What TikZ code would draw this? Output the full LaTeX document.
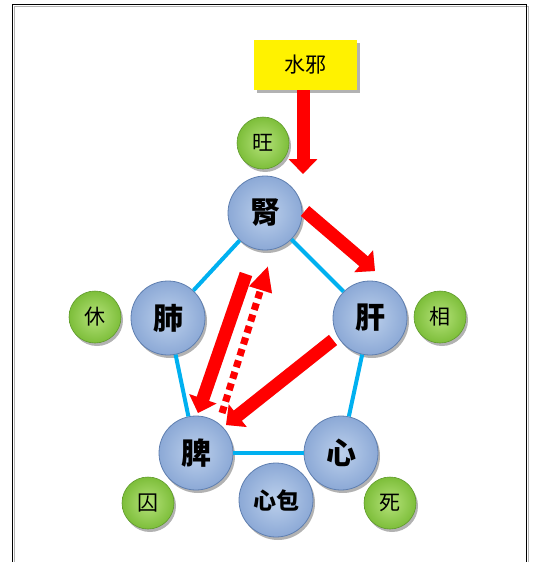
\documentclass[tikz,border=0pt]{standalone}
\usepackage{fontspec}
\newfontfamily\cjk{Noto Sans CJK TC}
\usetikzlibrary{arrows.meta,shadows}
\definecolor{edgeblue}{HTML}{00B0F0}
\definecolor{ballin}{HTML}{BCD0EC}
\definecolor{ballout}{HTML}{8CA9D6}
\definecolor{ballrim}{HTML}{5F7FB0}
\definecolor{grin}{HTML}{B5E27A}
\definecolor{grout}{HTML}{7DBE3A}
\definecolor{grrim}{HTML}{5E9A2A}
\definecolor{arrred}{HTML}{FF0000}
\tikzset{
  bluenode/.style={circle, minimum size=74pt, inner sep=0pt, shading=radial,
    inner color=ballin, outer color=ballout, draw=ballrim, line width=0.8pt,
    drop shadow={shadow xshift=2pt, shadow yshift=-3pt, opacity=0.3, fill=black},
    font=\cjk\bfseries\fontsize{30}{30}\selectfont},
  greennode/.style={circle, minimum size=52pt, inner sep=0pt, shading=radial,
    inner color=grin, outer color=grout, draw=grrim, line width=0.6pt,
    drop shadow={shadow xshift=2pt, shadow yshift=-3pt, opacity=0.3, fill=black},
    font=\cjk\fontsize{21}{21}\selectfont},
  yellowbox/.style={rectangle, fill=yellow, minimum width=103pt, minimum height=50pt,
    drop shadow={shadow xshift=3pt, shadow yshift=-3pt, opacity=0.3, fill=black},
    font=\cjk\fontsize{21}{21}\selectfont},
  edgeline/.style={draw=edgeblue, line width=4pt},
  fatarrow/.style={draw=arrred, line width=13pt, -{Triangle[width=28pt,length=15pt]}},
  fatshadow/.style={draw=black!18, line width=13pt, -{Triangle[width=28pt,length=15pt]}},
  dotarrow/.style={draw=arrred, line width=7pt, dash pattern=on 7pt off 5pt,
    -{Triangle[width=22pt,length=25pt]}},
  dotshadow/.style={draw=black!18, line width=7pt, dash pattern=on 7pt off 5pt,
    -{Triangle[width=22pt,length=25pt]}},
}
\begin{document}
\begin{tikzpicture}[x=1pt,y=-1pt]
\useasboundingbox (0,0) rectangle (533,562);
% frame
\draw[black!30, line width=1.2pt] (14.2,562) -- (14.2,6.2) -- (528.2,6.2) -- (528.2,562);
\draw[black, line width=1.4pt] (12.5,562) -- (12.5,4.5) -- (526.5,4.5) -- (526.5,562);

% nodes
\node[yellowbox] (xie) at (305.5,65) {水邪};
\node[greennode] (wang) at (263,143) {旺};
\node[bluenode] (shen) at (265,213) {腎};
\node[bluenode] (fei) at (168,318) {肺};
\node[bluenode] (gan) at (370,318) {肝};
\node[greennode] (xiu) at (95,317) {休};
\node[greennode] (xiang) at (440,317) {相};
\node[bluenode] (pi) at (196,453) {脾};
\node[bluenode] (xin) at (341,453) {心};
\node[bluenode, font=\cjk\bfseries\fontsize{23}{23}\selectfont] (xinbao) at (276,500) {心包};
\node[greennode] (qiu) at (148,503) {囚};
\node[greennode] (si) at (390,503) {死};

% pentagon edges
\draw[edgeline] (shen) -- (fei);
\draw[edgeline] (shen) -- (gan);
\draw[edgeline] (fei) -- (pi);
\draw[edgeline] (gan) -- (xin);
\draw[edgeline] (pi) -- (xin);

% arrow endpoints
\coordinate (a1s) at (303,90);   \coordinate (a1e) at (303,174);
\coordinate (a2s) at (305,211);  \coordinate (a2e) at (375,271);
\coordinate (a3s) at (333,340);  \coordinate (a3e) at (226,425);
\coordinate (a4s) at (246,274);  \coordinate (a4e) at (198,413);
\coordinate (a5s) at (222,413);  \coordinate (a5e) at (268,266);

% shadows of arrows
\begin{scope}[shift={(3,4)}]
\draw[fatshadow] (a1s) -- (a1e);
\draw[fatshadow] (a2s) -- (a2e);
\draw[fatshadow] (a3s) -- (a3e);
\draw[fatshadow] (a4s) -- (a4e);
\draw[dotshadow] (a5s) -- (a5e);
\end{scope}

% arrows
\draw[fatarrow] (a1s) -- (a1e);
\draw[fatarrow] (a2s) -- (a2e);
\draw[fatarrow] (a3s) -- (a3e);
\draw[fatarrow] (a4s) -- (a4e);
\draw[dotarrow] (a5s) -- (a5e);
\end{tikzpicture}
\end{document}
